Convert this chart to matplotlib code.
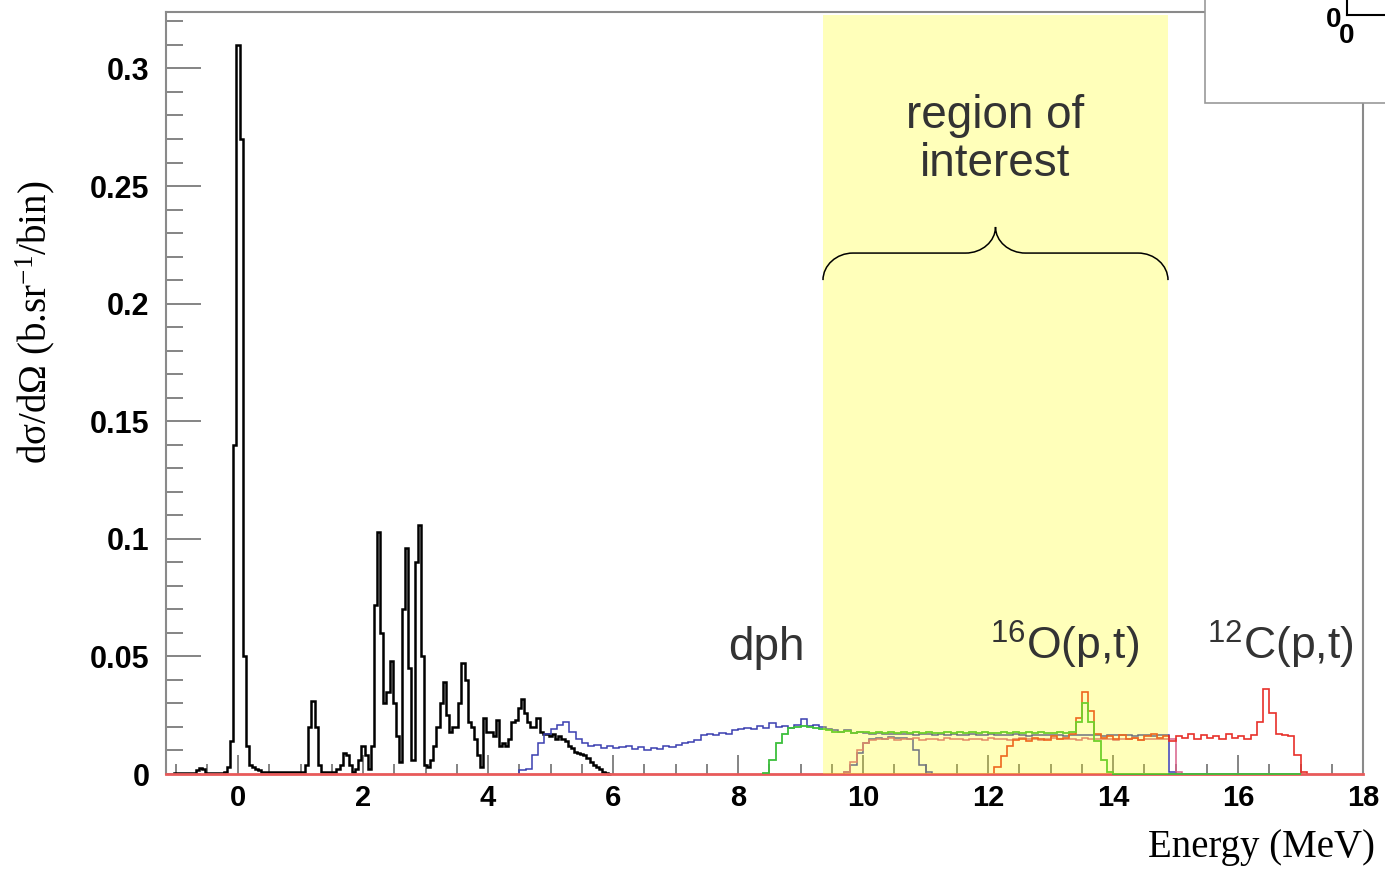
import numpy as np
import matplotlib
matplotlib.use('Agg')
import matplotlib.pyplot as plt
from matplotlib.path import Path
from matplotlib.patches import PathPatch, Rectangle
from matplotlib.lines import Line2D

# black spectrum, 0.05 MeV bins, first bin centred at -1.00 MeV
black_start = -1.025
black_width = 0.05
black_vals = [
    0.0005, 0.0005, 0.0005, 0.0005, 0.0005, 0.0005, 0.0005, 0.0015, 0.0025, 0.002,
    0.0005, 0.0005, 0.0005, 0.0005, 0.0005, 0.0005, 0.001, 0.003, 0.014, 0.14,
    0.31, 0.27, 0.05, 0.012, 0.004, 0.003, 0.002, 0.0015, 0.001, 0.001,
    0.001, 0.001, 0.001, 0.001, 0.001, 0.001, 0.001, 0.001, 0.001, 0.001,
    0.001, 0.001, 0.004, 0.02, 0.031, 0.02, 0.004, 0.001, 0.001, 0.001,
    0.001, 0.001, 0.002, 0.004, 0.009, 0.008, 0.004, 0.001, 0.002, 0.006,
    0.012, 0.008, 0.002, 0.012, 0.072, 0.103, 0.06, 0.03, 0.035, 0.048,
    0.03, 0.016, 0.005, 0.07, 0.096, 0.045, 0.006, 0.09, 0.106, 0.05,
    0.004, 0.003, 0.006, 0.012, 0.02, 0.03, 0.039, 0.025, 0.018, 0.02,
    0.02, 0.03, 0.047, 0.04, 0.022, 0.02, 0.015, 0.008, 0.003, 0.024,
    0.018, 0.018, 0.016, 0.023, 0.012, 0.013, 0.012, 0.015, 0.022, 0.023,
    0.028, 0.032, 0.026, 0.022, 0.02, 0.02, 0.024, 0.018, 0.017, 0.017,
    0.016, 0.017, 0.015, 0.016, 0.015, 0.014, 0.012, 0.011, 0.0095, 0.009,
    0.0085, 0.008, 0.007, 0.005, 0.004, 0.003, 0.002, 0.001, 0.0005, 0.0,
]

# coloured histograms, 0.1 MeV bins
hist_width = 0.1
dph_start = 4.5
dph_vals = [
    0.0015, 0.002, 0.008, 0.013, 0.017, 0.019, 0.021, 0.022, 0.018, 0.015,
    0.013, 0.012, 0.0125, 0.011, 0.012, 0.011, 0.0115, 0.012, 0.0105, 0.0115,
    0.0100, 0.011, 0.0105, 0.012, 0.0115, 0.0125, 0.013, 0.0135, 0.0145, 0.0165,
    0.017, 0.0165, 0.0175, 0.017, 0.0185, 0.019, 0.0195, 0.019, 0.0205, 0.0195,
    0.0215, 0.020, 0.0205, 0.0195, 0.021, 0.0235, 0.0205, 0.021, 0.020, 0.019,
    0.0185, 0.018, 0.0185, 0.0175, 0.018, 0.0175, 0.017, 0.0175, 0.017, 0.0172,
    0.017, 0.0168, 0.0172, 0.0165, 0.017, 0.0168, 0.0165, 0.017, 0.0166, 0.0168,
    0.0166, 0.0165, 0.017, 0.0164, 0.0166, 0.0168, 0.0164, 0.0166, 0.0165, 0.0168,
    0.0165, 0.0163, 0.0167, 0.0165, 0.0164, 0.0166, 0.0165, 0.0163, 0.0166, 0.0165,
    0.0165, 0.0164, 0.0166, 0.0163, 0.0165, 0.0166, 0.0164, 0.0165, 0.0163, 0.0166,
    0.0165, 0.0163, 0.0166, 0.0164, 0.001,
]

green_start = 8.4
green_vals = [
    0.0005, 0.006, 0.013, 0.017, 0.0195, 0.020, 0.0205, 0.020, 0.0195, 0.019,
    0.0185, 0.018, 0.0178, 0.0182, 0.0176, 0.018, 0.0178, 0.0175, 0.018, 0.0176,
    0.0178, 0.0174, 0.018, 0.0176, 0.0178, 0.0175, 0.0179, 0.0176, 0.0174, 0.0178,
    0.0176, 0.0179, 0.0175, 0.0177, 0.0174, 0.0178, 0.0176, 0.0175, 0.0178, 0.0176,
    0.0178, 0.0175, 0.0177, 0.0174, 0.0178, 0.0176, 0.0175, 0.0177, 0.0176, 0.018,
    0.022, 0.03, 0.022, 0.014, 0.006, 0.001, 0.0, 0.0, 0.0, 0.0,
    0.0, 0.0, 0.0, 0.0, 0.0, 0.0, 0.0, 0.0, 0.0, 0.0,
    0.0, 0.0, 0.0, 0.0, 0.0, 0.0, 0.0, 0.0, 0.0, 0.0,
    0.0, 0.0, 0.0, 0.0, 0.0, 0.0,
]

pink_start = 9.7
pink_vals = [
    0.001, 0.005, 0.010, 0.013, 0.0145, 0.015, 0.0148, 0.0152, 0.0146, 0.015,
    0.0148, 0.0152, 0.0146, 0.015, 0.0149, 0.0145, 0.0151, 0.0147, 0.015, 0.0146,
    0.015, 0.0148, 0.0145, 0.0151, 0.0147, 0.015, 0.0146, 0.0149, 0.0152, 0.0147,
    0.015, 0.0146, 0.0149, 0.0151, 0.0147, 0.015, 0.0148, 0.0145, 0.0151, 0.0148,
    0.015, 0.0147, 0.0149, 0.0146, 0.015, 0.0148, 0.0151, 0.0146, 0.0149, 0.015,
    0.0147, 0.0148, 0.0147, 0.001,
]

bump_start = 9.7
bump_vals = [0.001, 0.004, 0.009, 0.013, 0.015, 0.0155, 0.015, 0.0158, 0.0152,
             0.0155, 0.015, 0.010, 0.004, 0.001]

red_start = 12.1
red_vals = [
    0.003, 0.0075, 0.012, 0.0145, 0.015, 0.014, 0.0155, 0.015, 0.0145, 0.016,
    0.015, 0.0155, 0.017, 0.024, 0.035, 0.027, 0.017, 0.0155, 0.016, 0.015,
    0.0165, 0.015, 0.0155, 0.0145, 0.016, 0.017, 0.0155, 0.016, 0.014, 0.016,
    0.0155, 0.017, 0.015, 0.0165, 0.0155, 0.016, 0.015, 0.017, 0.0155, 0.016,
    0.015, 0.0165, 0.022, 0.036, 0.026, 0.017, 0.0165, 0.016, 0.008, 0.001,
]

roi_lo, roi_hi = 9.36, 14.88
x_major = list(range(0, 19, 2))
y_major = [0, 0.05, 0.1, 0.15, 0.2, 0.25, 0.3]
y_labels = ['0', '0.05', '0.1', '0.15', '0.2', '0.25', '0.3']

W, H = 1385, 869
plt.rcParams['font.family'] = ['Liberation Sans', 'DejaVu Sans']


def fx(px):
    return px / W


def fy(py):
    return 1 - py / H


def edges(start, width, vals):
    return start + width * np.arange(len(vals) + 1)


fig = plt.figure(figsize=(W / 100, H / 100), dpi=100)
ax = fig.add_axes([fx(166), fy(774), (1363 - 166) / W, (774 - 12) / H])
ax.set_xlim(-1.152, 18.0)
ax.set_ylim(0, 0.324)

# histograms
ax.stairs(black_vals, edges(black_start, black_width, black_vals), color='black',
          lw=1.8, baseline=0, zorder=2.0, clip_on=False)
ax.stairs(dph_vals, edges(dph_start, hist_width, dph_vals), color='#3a3fb0',
          lw=1.1, baseline=0, zorder=2.1, clip_on=False)
ax.stairs(bump_vals, edges(bump_start, hist_width, bump_vals), color='#3a3fb0',
          lw=1.1, baseline=0, zorder=2.1, clip_on=False)
ax.stairs(pink_vals, edges(pink_start, hist_width, pink_vals), color='#d8608a',
          lw=1.1, baseline=0, zorder=2.2, clip_on=False)
ax.stairs(red_vals, edges(red_start, hist_width, red_vals), color='#e8302a',
          lw=1.2, baseline=0, zorder=2.3, clip_on=False)
ax.stairs(green_vals, edges(green_start, hist_width, green_vals), color='#3cbf3c',
          lw=1.3, baseline=0, zorder=2.6, clip_on=False)

# highlighted region
ax.axvspan(roi_lo, roi_hi, ymin=0, ymax=0.996, color='#ffff00', alpha=0.27,
           lw=0, zorder=3)

# curly brace over the region
xm = (roi_lo + roi_hi) / 2
y_end, y_flat, y_tip = 0.210, 0.2215, 0.2326
rx, k = 0.48, 0.55
verts = [
    (roi_lo, y_end), (roi_lo, y_end + k * (y_flat - y_end)), (roi_lo + rx * (1 - k), y_flat), (roi_lo + rx, y_flat),
    (xm - rx, y_flat),
    (xm - rx * (1 - k), y_flat), (xm, y_tip - k * (y_tip - y_flat)), (xm, y_tip),
    (xm, y_tip - k * (y_tip - y_flat)), (xm + rx * (1 - k), y_flat), (xm + rx, y_flat),
    (roi_hi - rx, y_flat),
    (roi_hi - rx * (1 - k), y_flat), (roi_hi, y_end + k * (y_flat - y_end)), (roi_hi, y_end),
]
codes = [Path.MOVETO, Path.CURVE4, Path.CURVE4, Path.CURVE4, Path.LINETO,
         Path.CURVE4, Path.CURVE4, Path.CURVE4, Path.CURVE4, Path.CURVE4, Path.CURVE4,
         Path.LINETO, Path.CURVE4, Path.CURVE4, Path.CURVE4]
ax.add_patch(PathPatch(Path(verts, codes), fill=False, color='black', lw=1.1, zorder=4))

ax.text(xm, 0.2696, 'region of\ninterest', ha='center', va='center', fontsize=33,
        color='#333333', linespacing=1.1, zorder=5)
ax.text(8.46, 0.0485, 'dph', ha='center', va='baseline', fontsize=33,
        color='#333333', zorder=5)
ax.text(13.23, 0.0485, r'$\mathregular{^{16}}$O(p,t)', ha='center', va='baseline',
        fontsize=32, color='#333333', zorder=5)
ax.text(16.67, 0.0485, r'$\mathregular{^{12}}$C(p,t)', ha='center', va='baseline',
        fontsize=32, color='#333333', zorder=5)

# axes styling; the bottom line is the red zero level of the histograms
for side in ['left', 'right', 'top']:
    ax.spines[side].set_color('#8a8a8a')
    ax.spines[side].set_linewidth(1.5)
ax.spines['bottom'].set_color('#e85a5a')
ax.spines['bottom'].set_linewidth(2.0)

ax.set_xticks(x_major)
ax.set_xticks(np.arange(-1, 18.01, 0.5), minor=True)
ax.set_yticks(y_major, labels=y_labels)
ax.set_yticks(np.arange(0, 0.3201, 0.01), minor=True)
ax.tick_params(axis='both', which='both', direction='in', color='#707070', width=1.2)
ax.tick_params(axis='x', which='major', length=14, pad=7, labelsize=21)
ax.tick_params(axis='x', which='minor', length=7.5)
ax.tick_params(axis='y', which='major', length=25, pad=12, labelsize=22)
ax.tick_params(axis='y', which='minor', length=12)
plt.setp(ax.get_xticklabels() + ax.get_yticklabels(), fontweight='bold')

fig.text(fx(35), fy(322), 'd\u03c3/d\u03a9 (b.sr$\\mathregular{^{-1}}$/bin)', rotation=90,
         ha='center', va='center', fontsize=28, family='Liberation Serif')
fig.text(fx(1375), fy(848), 'Energy (MeV)', ha='right', va='center', fontsize=28,
         family='Liberation Serif')

# piece of the neighbouring pad at the top right
fig.patches.append(Rectangle((fx(1205), fy(103)), (1400 - 1205) / W, 110 / H,
                             transform=fig.transFigure, facecolor='white',
                             edgecolor='#999999', lw=1.2, zorder=10))
fig.lines.append(Line2D([fx(1347), fx(1347)], [fy(15), fy(-5)], transform=fig.transFigure,
                        color='black', lw=1.5, zorder=11))
fig.lines.append(Line2D([fx(1347), fx(1395)], [fy(15), fy(15)], transform=fig.transFigure,
                        color='black', lw=1.5, zorder=11))
fig.text(fx(1334), fy(20), '0', ha='center', va='center', fontsize=20,
         fontweight='bold', zorder=12)
fig.text(fx(1347), fy(36), '0', ha='center', va='center', fontsize=20,
         fontweight='bold', zorder=12)

fig.savefig('out.png', dpi=100)
